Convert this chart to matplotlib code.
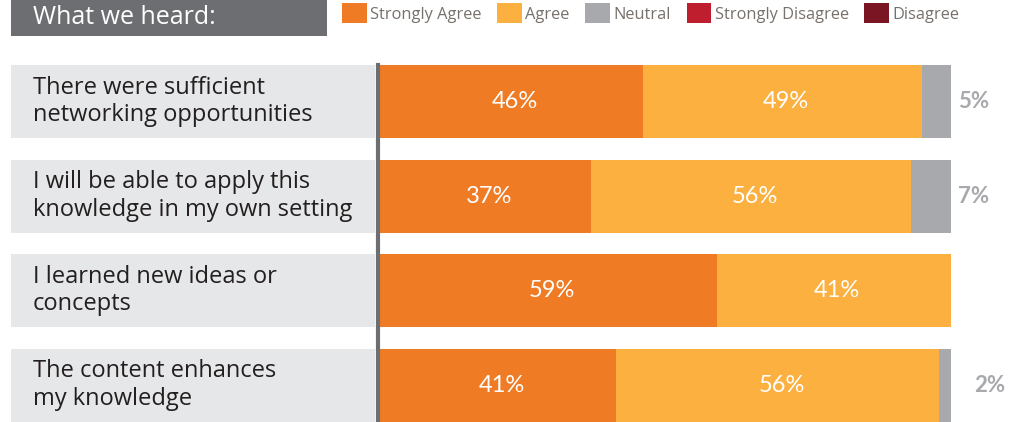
import numpy as np
import matplotlib.pyplot as plt
from matplotlib.patches import Rectangle, Patch
import matplotlib.transforms as mtransforms

W, H = 1023, 422

questions = ["There were sufficient\nnetworking opportunities",
             "I will be able to apply this\nknowledge in my own setting",
             "I learned new ideas or\nconcepts",
             "The content enhances\nmy knowledge"]
strongly_agree = [46, 37, 59, 41]
agree = [49, 56, 41, 56]
neutral = [5, 7, 0, 2]
strongly_disagree = [0, 0, 0, 0]
disagree = [0, 0, 0, 0]

series_names = ["Strongly Agree", "Agree", "Neutral", "Strongly Disagree", "Disagree"]
colors = ["#ef7b24", "#fbb040", "#a7a9ac", "#be1e2d", "#7a1523"]

fig = plt.figure(figsize=(W / 100, H / 100), dpi=100)

def px(x0, y0, x1, y1):
    # pixel box (top-down) -> figure fraction rect
    return [x0 / W, 1 - y1 / H, (x1 - x0) / W, (y1 - y0) / H]

ax = fig.add_axes(px(375, 65, 951, 422))
ax.set_xlim(-500 / 571.0, 100)
ax.set_ylim(3.39, -0.386)
ax.axis('off')

data = np.array([strongly_agree, agree, neutral, strongly_disagree, disagree], dtype=float)
totals = data.sum(axis=0)
shares = data / totals * 100
bar_h = 0.772
y = np.arange(len(questions))

left = np.zeros(len(questions))
for k in range(len(series_names)):
    ax.barh(y, shares[k], left=left, height=bar_h, color=colors[k], linewidth=0)
    for i in range(len(questions)):
        v = data[k][i]
        if v == 0:
            continue
        if k < 2:
            ax.text(left[i] + shares[k][i] / 2 + 0.6, y[i], "%d%%" % v, color="white",
                    ha="center", va="center", fontsize=17, family="Lato")
        else:
            off = 5 if i < 2 else 17
            ax.annotate("%d%%" % v, xy=(100, y[i]), xytext=(off, 0), textcoords="offset points",
                        color="#a7a9ac", ha="left", va="center", fontsize=16,
                        family="Lato", fontweight="bold")
    left += shares[k]

# label boxes
trans = mtransforms.blended_transform_factory(fig.transFigure, ax.transData)
for i, q in enumerate(questions):
    ax.add_patch(Rectangle((11 / W, y[i] - bar_h / 2), (375 - 11) / W, bar_h, transform=trans,
                           color="#e6e7e8", linewidth=0, clip_on=False, zorder=0))
    ax.text(33 / W, y[i], q, transform=trans, ha="left", va="center", fontsize=17,
            family="Open Sans", color="#231f20", linespacing=1.2)

ax.axvline(-2 / 5.71, ymin=0, ymax=1, color="#6d6e71", linewidth=3, clip_on=False)

# header
fig.patches.append(Rectangle((11 / W, 1 - 36 / H), 316 / W, 36 / H, transform=fig.transFigure,
                             color="#6d6e71", linewidth=0))
fig.text(33 / W, 1 - 18 / H, "What we heard:", color="white", fontsize=18,
         family="Open Sans", va="center", ha="left")

handles = [Patch(color=c, linewidth=0) for c in colors]
fig.legend(handles, series_names, loc="upper left", bbox_to_anchor=(342 / W, 1 - 3 / H),
           ncol=5, frameon=False, handlelength=1.52, handleheight=1.52,
           handletextpad=0.2, columnspacing=0.95, borderaxespad=0, borderpad=0,
           labelcolor="#77706b", prop={"family": "Open Sans", "size": 11.8})

fig.savefig("out.png", dpi=100)
